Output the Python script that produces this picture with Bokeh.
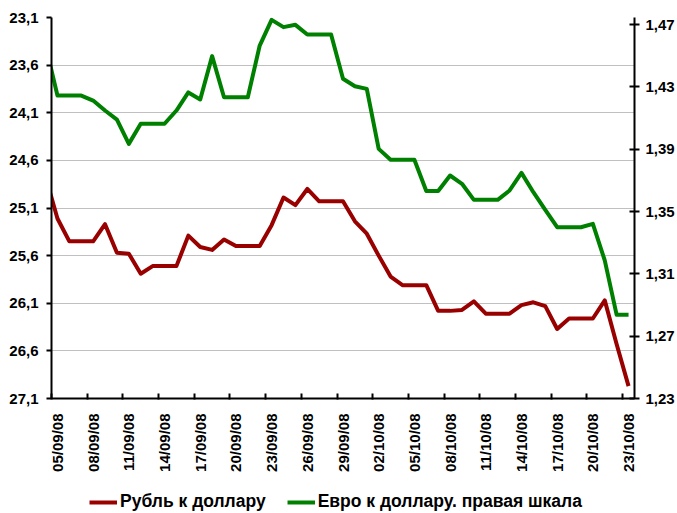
import math
import numpy as np
import pandas as pd
from bokeh.plotting import figure
from bokeh.layouts import column
from bokeh.models import (Range1d, LinearAxis, FixedTicker, CustomJSTickFormatter,
                          Legend, LegendItem, ColumnDataSource)
from bokeh.embed import file_html
from bokeh.resources import INLINE

# ---- data -------------------------------------------------------------
dates = [d.strftime("%d/%m/%y") for d in pd.date_range("2008-09-04", "2008-10-23")]

rub_usd = [24.77,
           25.21, 25.45, 25.45, 25.45, 25.27, 25.57, 25.58, 25.79, 25.71, 25.71,
           25.71, 25.39, 25.51, 25.54, 25.43, 25.50, 25.50, 25.50, 25.28, 24.99,
           25.07, 24.90, 25.03, 25.03, 25.03, 25.24, 25.37, 25.60, 25.82, 25.91,
           25.91, 25.91, 26.18, 26.18, 26.17, 26.08, 26.21, 26.21, 26.21, 26.12,
           26.09, 26.13, 26.37, 26.26, 26.26, 26.26, 26.07, 26.53, 26.97]

eur_usd = [1.4565,
           1.4244, 1.4244, 1.4244, 1.4212, 1.4148, 1.4090, 1.3934, 1.4063, 1.4063, 1.4063,
           1.4148, 1.4264, 1.4219, 1.4497, 1.4233, 1.4233, 1.4233, 1.4565, 1.4730, 1.4683,
           1.4698, 1.4636, 1.4636, 1.4636, 1.4352, 1.4304, 1.4287, 1.3902, 1.3832, 1.3832,
           1.3832, 1.3632, 1.3632, 1.3731, 1.3678, 1.3575, 1.3575, 1.3575, 1.3635, 1.3748,
           1.3624, 1.3511, 1.3399, 1.3399, 1.3399, 1.3421, 1.3186, 1.2837, 1.2837]

tick_labels = ["05/09/08", "08/09/08", "11/09/08", "14/09/08", "17/09/08", "20/09/08",
               "23/09/08", "26/09/08", "29/09/08", "02/10/08", "05/10/08", "08/10/08",
               "11/10/08", "14/10/08", "17/10/08", "20/10/08", "23/10/08"]

rub_ticks = [23.1, 23.6, 24.1, 24.6, 25.1, 25.6, 26.1, 26.6, 27.1]
eur_ticks = [1.23, 1.27, 1.31, 1.35, 1.39, 1.43, 1.47]

series_names = ["Рубль к доллару", "Евро к доллару. правая шкала"]

# ---- positions ---------------------------------------------------------
first = dates.index(tick_labels[0])
x = [i - first for i in range(len(dates))]
centers = [dates.index(t) - first for t in tick_labels]
bounds = [c - 0.5 for c in centers]

src = ColumnDataSource(dict(x=x, rub=rub_usd, eur=eur_usd))

FONT = "Liberation Sans"
RED = "#990000"
GREEN = "#008000"

W, H1, H2 = 676, 482, 30
p = figure(output_backend="svg", toolbar_location=None,
           x_range=Range1d(-0.5, x[-1] + 0.5),
           y_range=Range1d(rub_ticks[-1], rub_ticks[0]))
p.frame_width = 583
p.frame_height = 381
p.extra_y_ranges = {"eur": Range1d(eur_ticks[0], 1.4745)}

p.min_border_left = 51
p.min_border_right = 42
p.min_border_top = 17
p.min_border_bottom = H1 - 398
p.outline_line_color = None
p.background_fill_color = "white"
p.border_fill_color = "white"

# grid
p.xgrid.visible = False
p.ygrid.ticker = FixedTicker(ticks=rub_ticks)
p.ygrid.grid_line_color = "#c0c0c0"
p.ygrid.grid_line_width = 1

# left axis
ya = p.yaxis[0]
ya.ticker = FixedTicker(ticks=rub_ticks)
ya.formatter = CustomJSTickFormatter(code="return tick.toFixed(1).replace('.', ',');")
ya.axis_line_width = 2
ya.axis_line_color = "black"
ya.major_tick_line_width = 2
ya.major_tick_out = 5
ya.major_tick_in = 0
ya.minor_tick_line_color = None
ya.major_label_standoff = 8
ya.major_label_text_font = FONT
ya.major_label_text_font_style = "bold"
ya.major_label_text_font_size = "15px"
ya.major_label_text_color = "black"

# right axis
ra = LinearAxis(y_range_name="eur")
ra.ticker = FixedTicker(ticks=eur_ticks)
ra.formatter = CustomJSTickFormatter(code="return tick.toFixed(2).replace('.', ',');")
ra.axis_line_width = 2
ra.axis_line_color = "black"
ra.major_tick_line_width = 2
ra.major_tick_out = 5
ra.major_tick_in = 5
ra.minor_tick_line_color = None
ra.major_label_standoff = 6
ra.major_label_text_font = FONT
ra.major_label_text_font_style = "bold"
ra.major_label_text_font_size = "15px"
ra.major_label_text_color = "black"
p.add_layout(ra, "right")

# bottom axis
xa = p.xaxis[0]
xa.ticker = FixedTicker(ticks=centers, minor_ticks=bounds)
xa.major_label_overrides = {c: t for c, t in zip(centers, tick_labels)}
xa.major_label_orientation = math.pi / 2
xa.axis_line_width = 2
xa.axis_line_color = "black"
xa.major_tick_line_color = None
xa.major_tick_out = 0
xa.major_tick_in = 0
xa.minor_tick_line_color = "black"
xa.minor_tick_line_width = 2
xa.minor_tick_in = 5
xa.minor_tick_out = 1
xa.major_label_standoff = 14
xa.major_label_text_font = FONT
xa.major_label_text_font_style = "bold"
xa.major_label_text_font_size = "15px"
xa.major_label_text_color = "black"

# lines
r_rub = p.line("x", "rub", source=src, line_color=RED, line_width=4, line_join="round")
r_eur = p.line("x", "eur", source=src, y_range_name="eur", line_color=GREEN,
               line_width=4, line_join="round")

# ---- legend strip (separate small figure under the chart) ---------------
lf = figure(width=W, height=H2, output_backend="svg", toolbar_location=None,
            x_range=Range1d(0, 1), y_range=Range1d(0, 1),
            x_axis_location=None, y_axis_location=None,
            min_border=0, outline_line_color=None)
lf.grid.visible = False
lf.background_fill_color = "white"
lf.border_fill_color = "white"
# invisible stand-ins that only supply the legend swatches
k_rub = lf.line(x=np.array([0.5]), y=np.array([np.nan]), line_color=RED, line_width=4)
k_eur = lf.line(x=np.array([0.5]), y=np.array([np.nan]), line_color=GREEN, line_width=4)

legend = Legend(items=[LegendItem(label=series_names[0], renderers=[k_rub]),
                       LegendItem(label=series_names[1], renderers=[k_eur])],
                orientation="horizontal", location=(38, 0),
                label_text_font=FONT, label_text_font_style="bold",
                label_text_font_size="17.5px", label_text_color="black",
                glyph_width=28, glyph_height=20, label_height=20,
                label_standoff=3, spacing=21, padding=0, margin=0,
                border_line_color=None, background_fill_alpha=0)
lf.add_layout(legend, "center")

open("out.html", "w").write(file_html(column(p, lf, spacing=0), INLINE))
